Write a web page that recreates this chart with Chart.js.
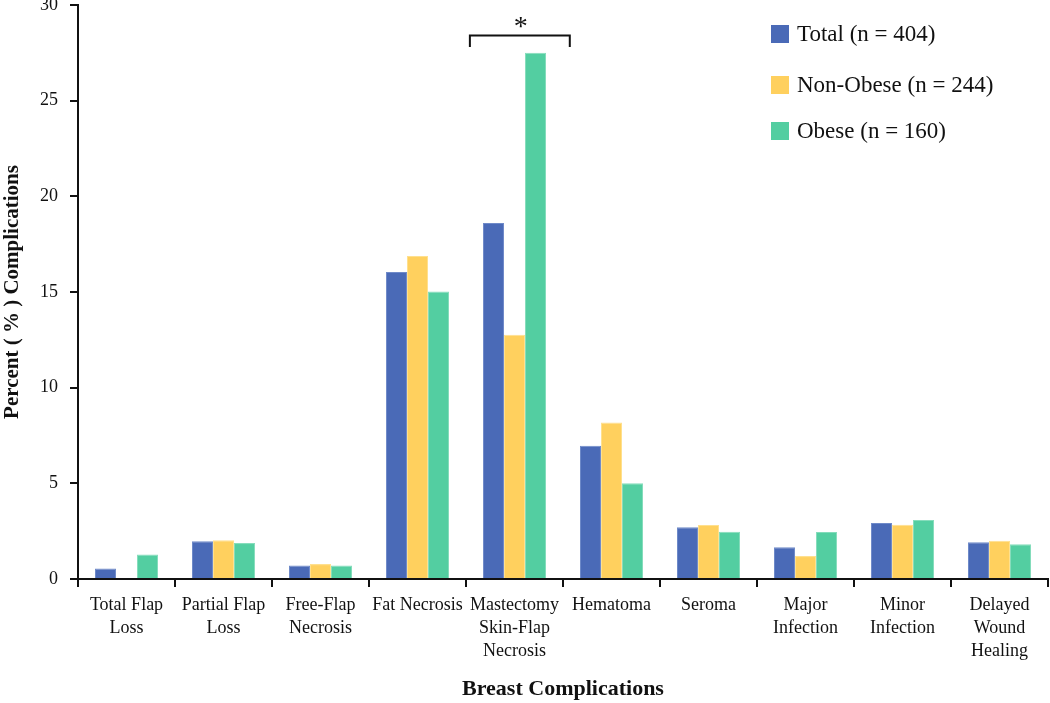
<!DOCTYPE html>
<html>
<head>
<meta charset="utf-8">
<script src="https://cdn.jsdelivr.net/npm/chart.js@4"></script>
<style>
  html, body { margin: 0; padding: 0; background: #fff; }
  #wrap { width: 1050px; height: 703px; }
</style>
</head>
<body>
<div id="wrap"><canvas id="chart" width="1050" height="703"></canvas></div>
<script>
// categorías (etiquetas en varias líneas)
const categories = [
  ["Total Flap", "Loss"],
  ["Partial Flap", "Loss"],
  ["Free-Flap", "Necrosis"],
  "Fat Necrosis",
  ["Mastectomy", "Skin-Flap", "Necrosis"],
  "Hematoma",
  "Seroma",
  ["Major", "Infection"],
  ["Minor", "Infection"],
  ["Delayed", "Wound", "Healing"]
];

const seriesLabels = ["Total (n = 404)", "Non-Obese (n = 244)", "Obese (n = 160)"];
const totalValues    = [0.55, 1.97, 0.70, 16.04, 18.6, 6.96, 2.70, 1.66, 2.93, 1.92];
const nonObeseValues = [0,    2.03, 0.78, 16.88, 12.76, 8.18, 2.82, 1.20, 2.84, 2.00];
const obeseValues    = [1.28, 1.88, 0.70, 15.03, 27.5, 5.00, 2.47, 2.46, 3.09, 1.81];

const yTicks = [0, 5, 10, 15, 20, 25, 30];

// corchete de significancia sobre "Mastectomy Skin-Flap Necrosis"
const sigCategory = 4;
const sigLabel = "*";
const sigTop = 28.4;
const sigEnd = 27.8;

const colors = ['#4A6AB7', '#FFD05E', '#53CEA1'];
const borders = ['#6F8AC9', '#FFE08E', '#86DDBC'];

const serif = "'Liberation Serif', 'Times New Roman', serif";

const bracketPlugin = {
  id: 'bracket',
  afterDatasetsDraw(chart) {
    const { ctx, scales: { x, y } } = chart;
    const cw = x.getPixelForValue(1) - x.getPixelForValue(0);
    const cx = x.getPixelForValue(sigCategory) + cw * 0.055;
    const half = cw * 0.515;
    const yt = y.getPixelForValue(sigTop);
    const ye = y.getPixelForValue(sigEnd);
    ctx.save();
    ctx.strokeStyle = '#111';
    ctx.lineWidth = 2;
    ctx.beginPath();
    ctx.moveTo(cx - half, ye);
    ctx.lineTo(cx - half, yt);
    ctx.lineTo(cx + half, yt);
    ctx.lineTo(cx + half, ye);
    ctx.stroke();
    ctx.fillStyle = '#111';
    ctx.font = "28px " + serif;
    ctx.textAlign = 'center';
    ctx.textBaseline = 'alphabetic';
    ctx.fillText(sigLabel, cx + 1, yt - 1);
    ctx.restore();
  }
};

const legendPlugin = {
  id: 'customLegend',
  afterDraw(chart) {
    const { ctx, chartArea } = chart;
    const x0 = chartArea.right - 277;
    const ys = [34, 85, 131];
    ctx.save();
    ctx.font = "23px " + serif;
    ctx.textBaseline = 'middle';
    ctx.textAlign = 'left';
    chart.data.datasets.forEach((ds, i) => {
      ctx.fillStyle = ds.backgroundColor;
      ctx.fillRect(x0, ys[i] - 9, 18, 18);
      ctx.fillStyle = '#111';
      ctx.fillText(ds.label, x0 + 26, ys[i] + 1);
    });
    ctx.restore();
  }
};

const datasets = [totalValues, nonObeseValues, obeseValues].map((vals, i) => ({
  label: seriesLabels[i],
  data: vals,
  backgroundColor: colors[i],
  borderColor: borders[i],
  borderWidth: 1,
  categoryPercentage: 0.65,
  barPercentage: 1.0
}));

new Chart(document.getElementById('chart'), {
  type: 'bar',
  data: { labels: categories, datasets },
  options: {
    responsive: false,
    animation: false,
    layout: { padding: { top: 5, right: 2, left: 0, bottom: 0 } },
    plugins: {
      legend: { display: false },
      tooltip: { enabled: false }
    },
    scales: {
      x: {
        grid: {
          offset: true,
          drawOnChartArea: false,
          drawTicks: true,
          tickLength: 8,
          color: '#111',
          lineWidth: 2
        },
        border: { display: true, color: '#111', width: 2 },
        ticks: {
          color: '#111',
          font: { family: serif, size: 18, lineHeight: 1.28 },
          maxRotation: 0,
          autoSkip: false,
          padding: 7
        },
        title: {
          display: true,
          text: 'Breast Complications',
          color: '#111',
          font: { family: serif, size: 22, weight: 'bold' },
          padding: { top: 20, bottom: 0 }
        },
        afterFit(scale) {
          scale.height = 124;
          scale.paddingLeft = 0;
          scale.paddingRight = 0;
        }
      },
      y: {
        min: 0,
        max: 30,
        afterBuildTicks(scale) { scale.ticks = yTicks.map(v => ({ value: v })); },
        grid: {
          drawOnChartArea: false,
          drawTicks: true,
          tickLength: 8,
          color: '#111',
          lineWidth: 2
        },
        border: { display: true, color: '#111', width: 2 },
        ticks: {
          color: '#111',
          font: { family: serif, size: 18 },
          padding: 12
        },
        title: {
          display: true,
          text: 'Percent ( % ) Complications',
          color: '#111',
          font: { family: serif, size: 21, weight: 'bold' },
          padding: { top: 0, bottom: 8 }
        },
        afterFit(scale) {
          scale.width = 78;
          scale.paddingTop = 0;
          scale.paddingBottom = 0;
        }
      }
    }
  },
  plugins: [bracketPlugin, legendPlugin]
});
</script>
</body>
</html>
